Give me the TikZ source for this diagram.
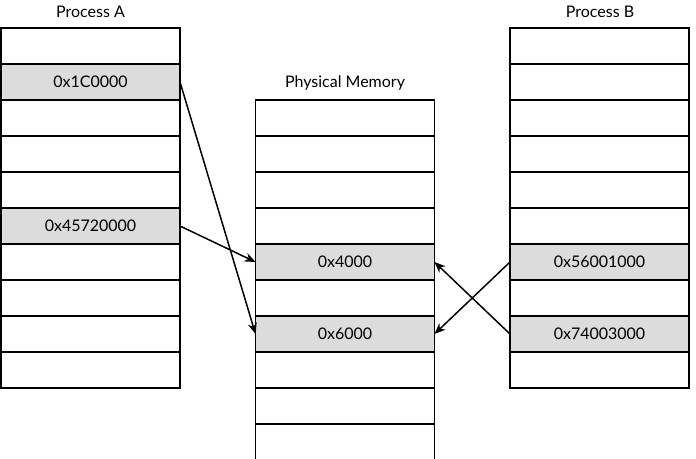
\documentclass[tikz,border=0pt]{standalone}
\usepackage{fontspec}
\setmainfont{Lato}
\usetikzlibrary{arrows.meta}
\definecolor{hl}{HTML}{DCDCDC}
\begin{document}
\begin{tikzpicture}[x=1pt,y=-1pt,
  cell/.style={draw=black, line width=1.2pt, minimum width=179pt, minimum height=36pt,
    inner sep=0pt, outer sep=0pt, anchor=north west, font=\fontsize{16}{19}\selectfont},
  hcell/.style={cell, fill=hl},
  title/.style={font=\fontsize{16}{19}\selectfont, inner sep=0pt},
  link/.style={-{Stealth[length=11pt,width=9pt]}, line width=1.5pt}]
\useasboundingbox (0,0) rectangle (696,458);
% titles
\node[title] (ta) at (90.5,12) {Process A};
\node[title] (tp) at (345,83) {Physical Memory};
\node[title] (tb) at (600,12) {Process B};
% Process A
\node[cell]  (a0) at (1,28) {};
\node[hcell] (a1) at (1,64) {0x1C0000};
\node[cell]  (a2) at (1,100) {};
\node[cell]  (a3) at (1,136) {};
\node[cell]  (a4) at (1,172) {};
\node[hcell] (a5) at (1,208) {0x45720000};
\node[cell]  (a6) at (1,244) {};
\node[cell]  (a7) at (1,280) {};
\node[cell]  (a8) at (1,316) {};
\node[cell]  (a9) at (1,352) {};
% Physical memory
\node[cell]  (p0) at (255.5,100) {};
\node[cell]  (p1) at (255.5,136) {};
\node[cell]  (p2) at (255.5,172) {};
\node[cell]  (p3) at (255.5,208) {};
\node[hcell] (p4) at (255.5,244) {0x4000};
\node[cell]  (p5) at (255.5,280) {};
\node[hcell] (p6) at (255.5,316) {0x6000};
\node[cell]  (p7) at (255.5,352) {};
\node[cell]  (p8) at (255.5,388) {};
\node[cell]  (p9) at (255.5,424) {};
% Process B
\node[cell]  (b0) at (510,28) {};
\node[cell]  (b1) at (510,64) {};
\node[cell]  (b2) at (510,100) {};
\node[cell]  (b3) at (510,136) {};
\node[cell]  (b4) at (510,172) {};
\node[cell]  (b5) at (510,208) {};
\node[hcell] (b6) at (510,244) {0x56001000};
\node[cell]  (b7) at (510,280) {};
\node[hcell] (b8) at (510,316) {0x74003000};
\node[cell]  (b9) at (510,352) {};
% arrows
\draw[link] (a1.east) -- (p6.west);
\draw[link] (a5.east) -- (p4.west);
\draw[link] (b6.west) -- (p6.east);
\draw[link] (b8.west) -- (p4.east);
\end{tikzpicture}
\end{document}
